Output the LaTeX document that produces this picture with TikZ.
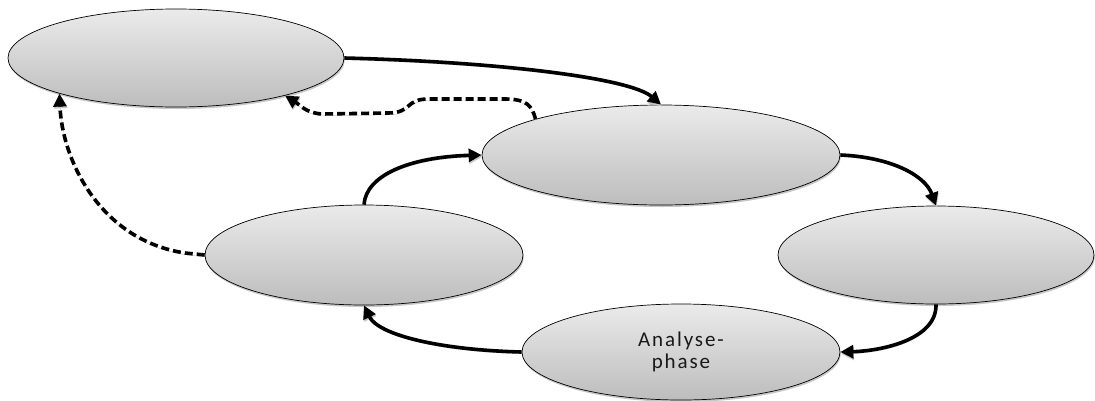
\documentclass[tikz,border=0pt]{standalone}
\usepackage{fontspec}
\setmainfont{Carlito}
\usetikzlibrary{shapes.geometric,arrows.meta,shadows}

\tikzset{
  phase/.style={ellipse, draw=black, line width=0.7pt, inner sep=0pt,
    top color=black!8, bottom color=black!26,
    drop shadow={shadow xshift=0.8pt, shadow yshift=-2pt, fill=black!22, opacity=1},
    font=\fontsize{21}{22}\selectfont\addfontfeature{LetterSpace=9},
    text=black!90, align=center},
  flow/.style={line width=3.6pt, -{Triangle[length=13pt,width=13pt]},
    preaction={draw=black!22, transform canvas={xshift=0.6pt, yshift=-1.8pt}}},
  back/.style={flow, dash pattern=on 8pt off 4pt}
}

\begin{document}
\begin{tikzpicture}[x=1pt, y=-1pt]
\useasboundingbox (0,0) rectangle (1095,400);

% the five phases of the cycle
\node[phase, minimum width=336pt, minimum height=98pt]  (e1) at (176,58)  {};
\node[phase, minimum width=358pt, minimum height=100pt] (e2) at (661,155) {};
\node[phase, minimum width=318pt, minimum height=100pt] (e3) at (364,255) {};
\node[phase, minimum width=316pt, minimum height=98pt]  (e4) at (936,255) {};
\node[phase, minimum width=318pt, minimum height=96pt]  (e5) at (681,352) {Analyse-\\phase};

% forward transitions
\draw[flow] (e1.east) .. controls (500,62) and (630,78) .. (e2.north);
\draw[flow] (e2.east) .. controls (890,157) and (925,175) .. (e4.north);
\draw[flow] (e4.south) .. controls (937,340) and (880,351) .. (e5.east);
\draw[flow] (e5.west) .. controls (440,350) and (378,335) .. (e3.south);
\draw[flow] (e3.north) .. controls (366,175) and (410,157) .. (e2.west);

% feedback transitions
\draw[back] (e2.164) .. controls (532,106) and (527,99) .. (505,99)
  -- (428,99) .. controls (405,99) and (412,113) .. (388,113)
  -- (322,114) .. controls (306,113) and (300,105) .. (e1.-19);
\draw[back] (e3.west) -- (185,253) .. controls (100,240) and (62,160) .. (e1.197);
\end{tikzpicture}
\end{document}
